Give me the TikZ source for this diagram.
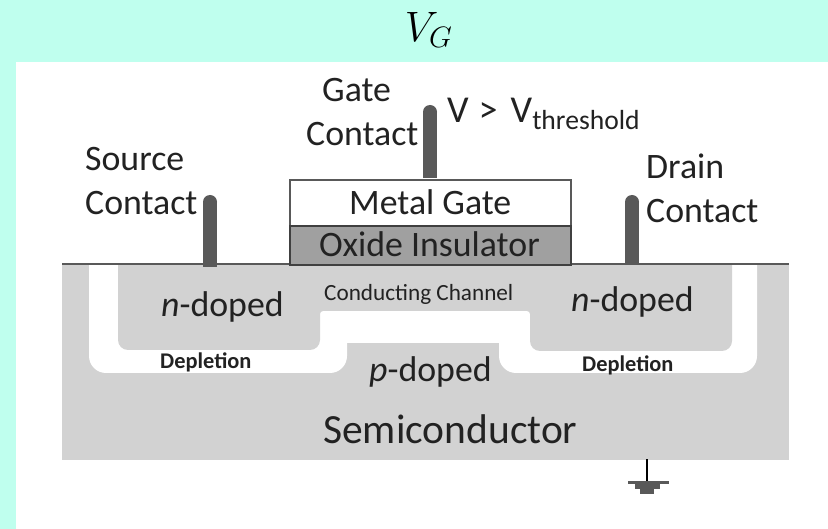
\documentclass[tikz,border=0pt]{standalone}
\usepackage{amsmath}
\usepackage{fontspec}
\setmainfont{Carlito}
\usetikzlibrary{positioning}
\definecolor{bgmint}{HTML}{BFFFEE}
\definecolor{semigray}{HTML}{D2D2D2}
\definecolor{oxidegray}{HTML}{A0A0A0}
\definecolor{metaldark}{HTML}{595959}
\definecolor{inkdark}{HTML}{222222}

\begin{document}
\begin{tikzpicture}[x=1pt, y=-1pt,
        lbl/.style={anchor=base west, inner sep=0pt, text=inkdark, font=\fontsize{35.8}{40}\selectfont},
        small lbl/.style={lbl, font=\fontsize{23.2}{26}\selectfont},
        bold lbl/.style={lbl, font=\fontsize{22.4}{26}\selectfont\bfseries},
        contact/.style={line width=14pt, color=metaldark},
        contact tip/.style={circle, fill=metaldark, inner sep=0pt, minimum size=14pt},
        layer/.style={line width=2pt, anchor=north west, inner sep=0pt, minimum width=281pt}]
    \useasboundingbox (0,0) rectangle (828,529);
    \fill[bgmint] (0,0) rectangle (828,529);
    \fill[white] (16,62) rectangle (828,529);

    % substrate, depletion zone, doped wells
    \fill[semigray] (62,264) rectangle (789,460);
    \fill[white] (89,264) [rounded corners=17pt] -- (89,373) -- (347,373) [sharp corners] -- (347,343)
        -- (499,343) [rounded corners=17pt] -- (499,373) -- (757,373) [sharp corners] -- (757,264) -- cycle;
    \fill[semigray] (118,264) [rounded corners=10pt] -- (118,350) -- (320,350) [rounded corners=3pt] -- (320,311)
        -- (530,311) [rounded corners=10pt] -- (530,351) -- (732,351) [sharp corners] -- (732,264) -- cycle;

    % surface and gate stack
    \coordinate (surfL) at (62,264);
    \coordinate (surfR) at (789,264);
    \draw[metaldark, line width=2pt] (surfL) -- (surfR);
    \node[layer, draw=metaldark, fill=white, minimum height=46pt] (metal) at (289,179) {};
    \node[layer, draw=black!75, fill=oxidegray, minimum height=39pt] (oxide) at (289,225) {};

    \foreach \name/\x/\ytop/\yfoot in {source/210/202/267, drain/632/202/264, gate/430/112/178} {
        \node[contact tip] (\name tip) at (\x,\ytop) {};
        \coordinate (\name foot) at (\x,\yfoot);
        \draw[contact] (\name tip.center) -- (\name foot);
    }

    % ground
    \coordinate (gndtop) at (647,459);
    \coordinate (gndbot) at (647,482);
    \draw[black, line width=2pt] (gndtop) -- (gndbot);
    \fill[metaldark] (628,481) rectangle (669,484);
    \fill[metaldark] (635,484) rectangle (660,489);
    \fill[metaldark] (640,489) rectangle (654,494);

    % labels
    \node[scale=2.05, text=black, font=\huge] (vg) at (429,30) {$V_G$};
    \node[lbl] (gateA) at (322,102) {Gate};
    \node[lbl] (gateB) at (306,146) {Contact};
    \node[lbl] (vth) at (447,123) {\fontsize{38}{40}\selectfont V\hspace{10pt}>\hspace{13pt}V\raisebox{-7pt}{\fontsize{27.6}{28}\selectfont threshold}};
    \node[lbl] (srcA) at (85,171) {Source};
    \node[lbl] (srcB) at (85,215) {Contact};
    \node[lbl] (drnA) at (646,179) {Drain};
    \node[lbl] (drnB) at (646,223) {Contact};
    \node[lbl] (metaltxt) at (349,215) {Metal Gate};
    \node[lbl] (oxidetxt) at (319,257) {Oxide Insulator};
    \node[lbl] (nleft) at (161,317) {\textit{n}-doped};
    \node[lbl] (nright) at (571,312) {\textit{n}-doped};
    \node[lbl] (ptxt) at (369,382) {\textit{p}-doped};
    \node[small lbl] (chan) at (324,301) {Conducting Channel};
    \node[bold lbl] (depL) at (160,369) {Depletion};
    \node[bold lbl] (depR) at (582,372) {Depletion};
    \node[lbl, font=\fontsize{41.5}{46}\selectfont] (semi) at (323,444) {Semiconductor};
\end{tikzpicture}
\end{document}
